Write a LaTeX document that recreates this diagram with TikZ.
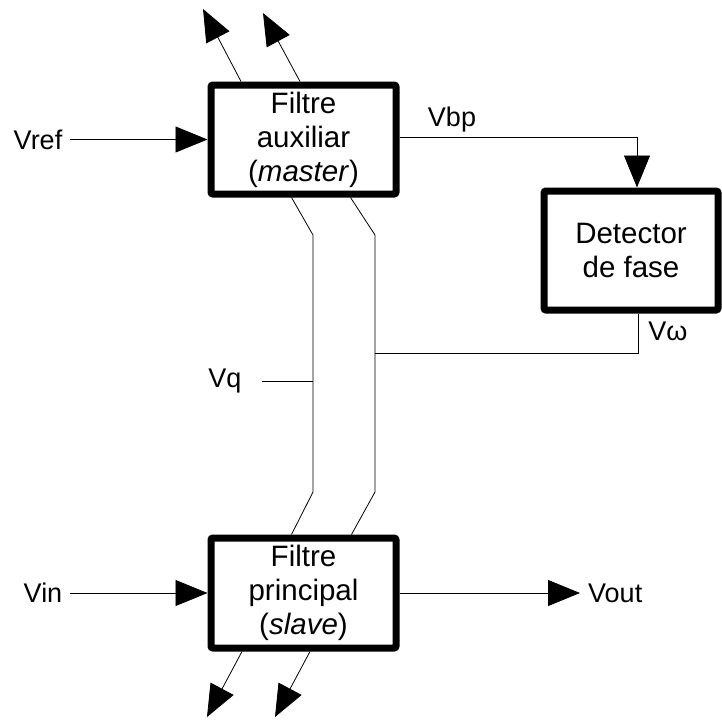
\documentclass[tikz,border=0pt]{standalone}
\usepackage{fontspec}
\setmainfont{Liberation Sans}
\usetikzlibrary{arrows.meta, positioning, calc}

\begin{document}
\begin{tikzpicture}[
      x=1pt, y=-1pt,
      font=\fontsize{27}{33}\selectfont,
      block/.style={rectangle, draw, line width=7pt, rounded corners=2pt, minimum width=185pt, minimum height=109pt, align=center, font=\fontsize{29.5}{34}\selectfont},
      sig/.style={inner xsep=8pt},
      wire/.style={line width=0.8pt},
      arrow/.style={wire, -{Triangle[length=32pt, width=26pt]}}
    ]
    \useasboundingbox (0,0) rectangle (722,720);

    \node[block] (master) at (303.5,139.5) {Filtre\\auxiliar\\(\textit{master})};
    \node[block, minimum width=174pt, minimum height=119pt] (det) at (631,250.5) {Detector\\de fase};
    \node[block, minimum height=110pt] (slave) at (303.5,593) {Filtre\\principal\\(\textit{slave})};

    \node[sig] (vref) at (38,139.5) {Vref};
    \node[sig] (vbp) at (452,120) {Vbp};
    \node[sig] (vw) at (668,331) {Vω};
    \node[sig] (vq) at (225,381) {Vq};
    \node[sig] (vin) at (43,593) {Vin};
    \node[sig, anchor=west] (vout) at (580,593) {Vout};

    % bus coordinates
    \coordinate (qa) at (313,235);
    \coordinate (qb) at (313,492);
    \coordinate (wa) at (375,235);
    \coordinate (wb) at (375,492);
    \coordinate (wj) at (375,353);
    \coordinate (t1) at (203,9);
    \coordinate (t2) at (263,13);
    \coordinate (b1) at (207,717);
    \coordinate (b2) at (275,717);

    \draw[arrow] (vref.east) -- (vref -| master.west);
    \draw[arrow] ([yshift=2pt]master.east) -| ([xshift=6pt]det.north);
    \draw[wire] ([xshift=7pt]det.south) |- (wj);
    \draw[wire] ([xshift=-12pt]master.south) -- (qa) -- (qb) -- ([xshift=-12pt]slave.north);
    \draw[wire] ([xshift=47pt]master.south) -- (wa) -- (wb) -- ([xshift=48pt]slave.north);
    \draw[wire] ([xshift=12pt]vq.east) -- (vq -| qa);
    \draw[arrow] (vin.east) -- (vin -| slave.west);
    \draw[arrow] (slave.east |- vout) -- (vout.west);

    \draw[arrow] ([xshift=-62.5pt]master.north) -- (t1);
    \draw[arrow] ([xshift=-3.5pt]master.north) -- (t2);
    \draw[arrow] ([xshift=-61.5pt]slave.south) -- (b1);
    \draw[arrow] ([xshift=6.5pt]slave.south) -- (b2);
  \end{tikzpicture}
\end{document}
